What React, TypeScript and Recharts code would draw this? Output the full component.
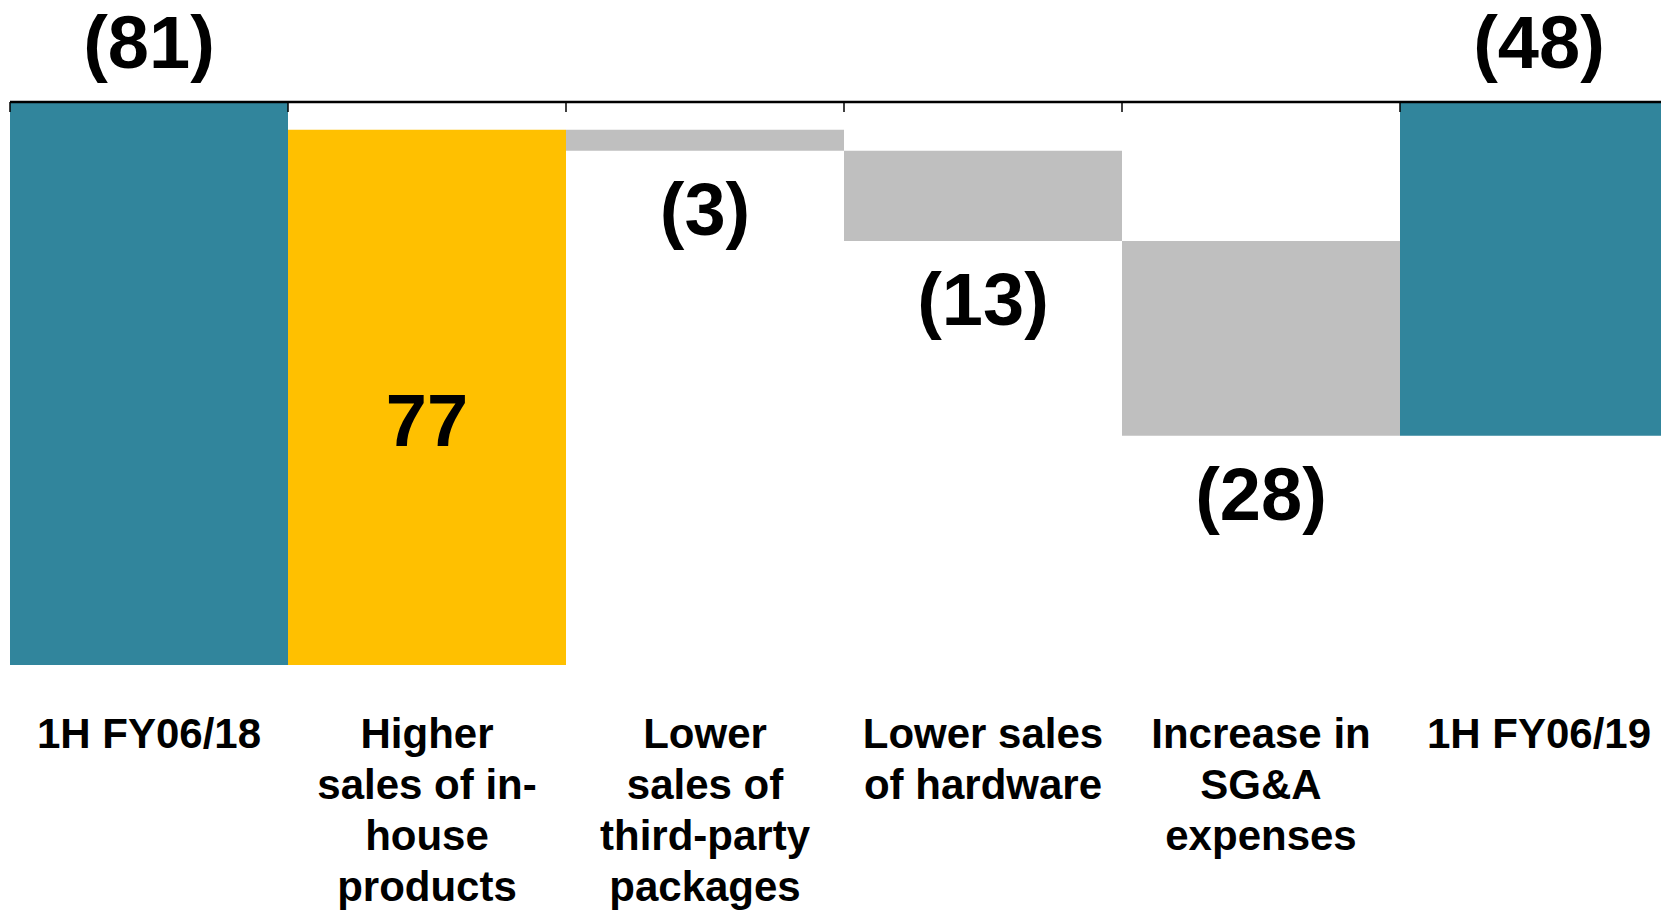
import React from 'react';
import { BarChart, Bar, XAxis, YAxis, Cell, LabelList } from 'recharts';

const categories = [
  '1H FY06/18',
  'Higher sales of in-house products',
  'Lower sales of third-party packages',
  'Lower sales of hardware',
  'Increase in SG&A expenses',
  '1H FY06/19',
];
const categoryLines = [
  ['1H FY06/18'],
  ['Higher', 'sales of in-', 'house', 'products'],
  ['Lower', 'sales of', 'third-party', 'packages'],
  ['Lower sales', 'of hardware'],
  ['Increase in', 'SG&A', 'expenses'],
  ['1H FY06/19'],
];
const values = [-81, 77, -3, -13, -28, -48];
const isTotal = [true, false, false, false, false, true];
const barColors = ['#31859C', '#FFC000', '#BFBFBF', '#BFBFBF', '#BFBFBF', '#31859C'];
const valueLabels = ['(81)', '77', '(3)', '(13)', '(28)', '(48)'];
const yDomain = [-81, 0];
const boundaryTicks = [0, 1, 2, 3, 4, 5, 6];

const FONT = "'Liberation Sans', Arial, Helvetica, sans-serif";

let running = 0;
const data = categories.map((name, i) => {
  let range: number[];
  if (isTotal[i]) {
    range = [Math.min(0, values[i]), Math.max(0, values[i])];
    running = values[i];
  } else {
    const start = running;
    const end = running + values[i];
    range = [Math.min(start, end), Math.max(start, end)];
    running = end;
  }
  return { name, range, idx: i };
});

const ValueLabel = (props: any) => {
  const { x, y, width, height, value } = props;
  const index = Number(value);
  const top = Math.min(y, y + height);
  const bottom = Math.max(y, y + height);
  const cx = x + width / 2;
  let baseY: number;
  if (isTotal[index]) baseY = top - 34;
  else if (values[index] > 0) baseY = (top + bottom) / 2 + 48.5;
  else baseY = bottom + 84;
  return (
    <text x={cx} y={baseY} textAnchor="middle" fontFamily={FONT} fontSize={74} fontWeight="bold" fill="#000">
      {valueLabels[index]}
    </text>
  );
};

const CategoryTick = (props: any) => {
  const { x, y, payload } = props;
  const i = categories.indexOf(payload.value);
  const lines = i >= 0 ? categoryLines[i] : [String(payload.value)];
  return (
    <g>
      <text x={x} y={y} textAnchor="middle" fontFamily={FONT} fontSize={42} fontWeight="bold" fill="#000">
        {lines.map((l, k) => (
          <tspan key={k} x={x} y={y + 82.5 + k * 51}>
            {l}
          </tspan>
        ))}
      </text>
    </g>
  );
};

const EmptyTick = () => <g />;

export default function App() {
  return (
    <div style={{ position: 'fixed', left: 0, top: 0, width: 1661, height: 910, overflow: 'hidden', background: '#fff' }}>
      <BarChart
        width={1680}
        height={910}
        data={data}
        margin={{ top: 102, right: 2, bottom: 0, left: 10 }}
        barCategoryGap={0}
        barGap={0}
      >
        <XAxis
          xAxisId="cat"
          dataKey="name"
          orientation="bottom"
          height={245}
          axisLine={false}
          tickLine={false}
          tickSize={0}
          tickMargin={0}
          interval={0}
          tick={<CategoryTick />}
        />
        <XAxis
          xAxisId="edge"
          dataKey="idx"
          type="number"
          orientation="top"
          mirror
          domain={[0, 6]}
          ticks={boundaryTicks}
          interval={0}
          allowDataOverflow
          axisLine={{ stroke: '#000', strokeWidth: 2.5 }}
          tickLine={{ stroke: '#000', strokeWidth: 1.5 }}
          tickSize={10}
          tick={EmptyTick}
        />
        <YAxis hide domain={yDomain} allowDataOverflow />
        <Bar xAxisId="cat" dataKey="range" isAnimationActive={false}>
          {data.map((d, i) => (
            <Cell key={i} fill={barColors[i]} />
          ))}
          <LabelList dataKey="idx" content={ValueLabel} />
        </Bar>
      </BarChart>
    </div>
  );
}
